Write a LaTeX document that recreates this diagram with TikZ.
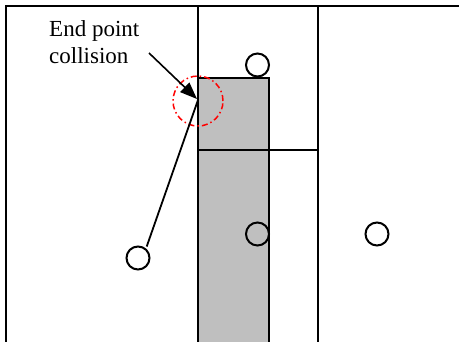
\documentclass[tikz,border=0pt]{standalone}
\usepackage{fontspec}
\setmainfont{Liberation Serif}
\usetikzlibrary{arrows.meta}
\begin{document}
\begin{tikzpicture}[x=1pt,y=-1pt,
  wall/.style={line width=2.2pt,line cap=rect},
  ball/.style={circle,draw,line width=2pt,minimum size=23pt,inner sep=0pt},
  hit/.style={circle,draw=red,line width=1.5pt,dash pattern=on 6pt off 3pt on 1.5pt off 3pt,minimum size=50pt,inner sep=0pt},
  lbl/.style={font=\fontsize{23}{27}\selectfont,align=left,inner sep=0pt}]
\useasboundingbox (0,0) rectangle (459,341);
% shaded block
\fill[black!25] (198,78) rectangle (269,345);
% walls
\draw[wall] (459,6) -- (6,6) -- (6,345);
\draw[wall] (198,6) -- (198,345);
\draw[wall] (318,6) -- (318,345);
\draw[wall] (198,345) -- (198,78) -- (269,78) -- (269,345);
\draw[wall] (198,150) -- (318,150);
% balls
\node[ball] (b1) at (257.5,65) {};
\node[ball] (b2) at (257.5,234) {};
\node[ball] (b3) at (138,258) {};
\node[ball] (b4) at (377,234) {};
% collision marker
\node[hit] (hc) at (198,101) {};
\coordinate (tip) at (197,99);
\coordinate (tail) at (149,53);
\coordinate (pe) at (198,100);
\node[lbl,anchor=base west] (t) at (49,63) {End point\\collision};
\draw[line width=1.6pt,-{Triangle[length=17pt,width=13pt]}] (tail) -- (tip);
\draw[line width=1.8pt,shorten <=2pt] (b3.50) -- (pe);
\end{tikzpicture}
\end{document}
